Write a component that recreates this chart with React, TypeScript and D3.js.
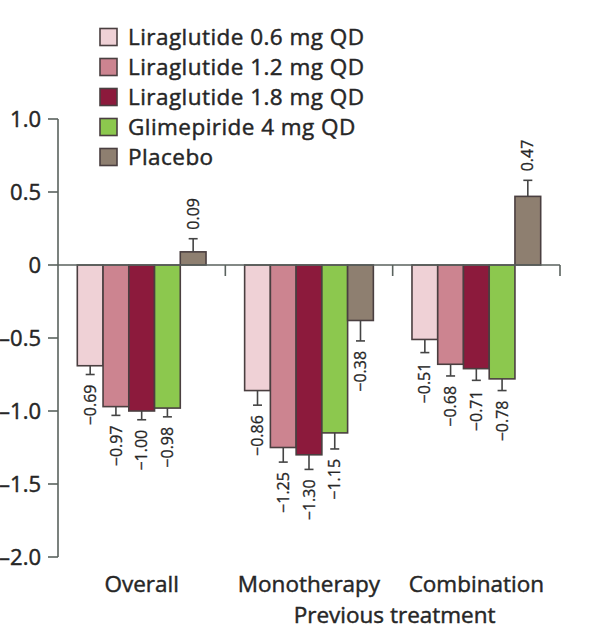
import React from "react";
import * as d3 from "d3";

const categories = ["Overall", "Monotherapy", "Combination"];
const seriesNames = [
  "Liraglutide 0.6 mg QD",
  "Liraglutide 1.2 mg QD",
  "Liraglutide 1.8 mg QD",
  "Glimepiride 4 mg QD",
  "Placebo",
];
const seriesColors = ["#efd1d6", "#cc8490", "#8c1a3c", "#8cc84e", "#8e7f70"];

const lira06 = [-0.69, -0.86, -0.51];
const lira12 = [-0.97, -1.25, -0.68];
const lira18 = [-1.0, -1.3, -0.71];
const glim = [-0.98, -1.15, -0.78];
const placebo = [0.09, -0.38, 0.47];

const lira06Err = [0.06, 0.1, 0.09];
const lira12Err = [0.06, 0.1, 0.08];
const lira18Err = [0.06, 0.1, 0.08];
const glimErr = [0.06, 0.11, 0.08];
const placeboErr = [0.09, 0.14, 0.11];

const yTicks = [1, 0.5, 0, -0.5, -1, -1.5, -2];
const yTickLabels = ["1.0", "0.5", "0", "–0.5", "–1.0", "–1.5", "–2.0"];
const xAxisTitle = "Previous treatment";

const seriesValues = [lira06, lira12, lira18, glim, placebo];
const seriesErrors = [lira06Err, lira12Err, lira18Err, glimErr, placeboErr];

const FONT = "'Open Sans', 'Noto Sans', sans-serif";
const TEXT = "#262626";
const AXIS = "#5a625e";
const STROKE = "#4a3f40";

function fmt(v: number) {
  const s = Math.abs(v).toFixed(2);
  return v < 0 ? "\u2212" + s : s;
}

export default function App() {
  const W = 597;
  const H = 637;
  const axisX = 58;
  const y = d3.scaleLinear().domain([-2, 1]).range([557, 119]);
  const x0 = d3.scaleBand<string>().domain(categories).range([axisX, 560]);
  const x1 = d3
    .scaleBand<string>()
    .domain(seriesNames)
    .range([0, x0.bandwidth()])
    .paddingInner(0)
    .paddingOuter(0.75);
  const y0 = y(0);

  const textStyle = { stroke: TEXT, strokeWidth: 0.45, paintOrder: "stroke" as const };

  return (
    <svg
      width={W}
      height={H}
      style={{ position: "absolute", left: 0, top: 0, background: "#fff" }}
      fontFamily={FONT}
    >
      {/* Legend */}
      {seriesNames.map((name, i) => (
        <g key={name} transform={`translate(100, ${37 + i * 30})`}>
          <rect x={0} y={-8.5} width={17} height={17} fill={seriesColors[i]} stroke={STROKE} strokeWidth={1.6} />
          <text x={28} y={0} dy="0.35em" fontSize={22.5} letterSpacing={0.45} fill={TEXT} style={textStyle}>
            {name}
          </text>
        </g>
      ))}

      {/* Y axis */}
      <line x1={axisX} x2={axisX} y1={y(1)} y2={y(-2)} stroke={AXIS} strokeWidth={1.6} />
      {yTicks.map((t, i) => (
        <g key={t}>
          <line x1={axisX - 10} x2={axisX} y1={y(t)} y2={y(t)} stroke={AXIS} strokeWidth={1.6} />
          <text x={axisX - 17} y={y(t)} dy="0.35em" textAnchor="end" fontSize={22} fill={TEXT} style={textStyle}>
            {yTickLabels[i]}
          </text>
        </g>
      ))}

      {/* Bars */}
      {categories.map((c, ci) => (
        <g key={c} transform={`translate(${x0(c)}, 0)`}>
          {seriesNames.map((s, si) => {
            const v = seriesValues[si][ci];
            const e = seriesErrors[si][ci];
            const bx = x1(s)!;
            const bw = x1.bandwidth();
            const cx = bx + bw / 2;
            const yv = y(v);
            const ye = y(v < 0 ? v - e : v + e);
            return (
              <g key={s}>
                <rect
                  x={bx}
                  y={Math.min(yv, y0)}
                  width={bw}
                  height={Math.abs(yv - y0)}
                  fill={seriesColors[si]}
                  stroke={STROKE}
                  strokeWidth={1.6}
                />
                <line x1={cx} x2={cx} y1={yv} y2={ye} stroke="#444" strokeWidth={1.6} />
                <line x1={cx - 4.5} x2={cx + 4.5} y1={ye} y2={ye} stroke="#444" strokeWidth={1.6} />
                <text
                  transform={`translate(${cx}, ${v < 0 ? ye + 10 : ye - 9}) rotate(-90)`}
                  textAnchor={v < 0 ? "end" : "start"}
                  dy="0.35em"
                  fontSize={16}
                  fill={TEXT}
                  style={{ ...textStyle, strokeWidth: 0.3 }}
                >
                  {fmt(v)}
                </text>
              </g>
            );
          })}
        </g>
      ))}

      {/* Zero line with group ticks */}
      <line x1={axisX} x2={560} y1={y0} y2={y0} stroke={AXIS} strokeWidth={1.6} />
      {categories.map((c) => (
        <line
          key={c}
          x1={x0(c)! + x0.bandwidth()}
          x2={x0(c)! + x0.bandwidth()}
          y1={y0}
          y2={y0 + 11}
          stroke={AXIS}
          strokeWidth={1.6}
        />
      ))}

      {/* Category labels */}
      {categories.map((c) => (
        <text
          key={c}
          x={x0(c)! + x0.bandwidth() / 2}
          y={592}
          textAnchor="middle"
          fontSize={22.5}
          fill={TEXT}
          style={textStyle}
        >
          {c}
        </text>
      ))}
      <text x={x0("Combination")! + 2} y={623} textAnchor="middle" fontSize={22.5} fill={TEXT} style={textStyle}>
        {xAxisTitle}
      </text>
    </svg>
  );
}
